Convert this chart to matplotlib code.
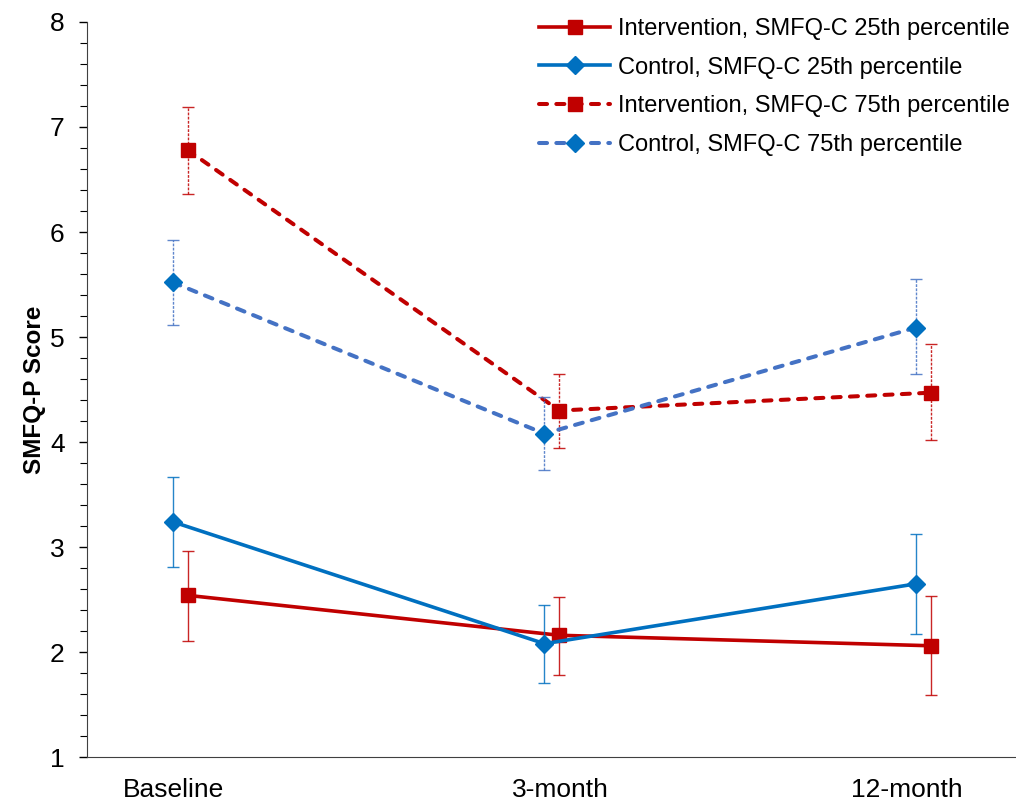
import numpy as np
import matplotlib
matplotlib.use('Agg')
import matplotlib.pyplot as plt
from matplotlib.ticker import MultipleLocator

plt.rcParams['font.family'] = ['Liberation Sans', 'DejaVu Sans']

# time points
timepoints = ['Baseline', '3-month', '12-month']

# SMFQ-P means and 95% CI bounds
int_25 = [2.54, 2.16, 2.06]
int_25_lo = [2.11, 1.78, 1.59]
int_25_hi = [2.96, 2.52, 2.53]

ctl_25 = [3.24, 2.08, 2.65]
ctl_25_lo = [2.81, 1.71, 2.17]
ctl_25_hi = [3.67, 2.45, 3.12]

int_75 = [6.78, 4.30, 4.47]
int_75_lo = [6.36, 3.94, 4.02]
int_75_hi = [7.19, 4.65, 4.93]

ctl_75 = [5.52, 4.08, 5.09]
ctl_75_lo = [5.11, 3.73, 4.65]
ctl_75_hi = [5.92, 4.43, 5.55]

red = '#C00000'
blue = '#0070C0'
blue2 = '#4472C4'

series = [
    ('Intervention, SMFQ-C 25th percentile', int_25, int_25_lo, int_25_hi, red, 's', '-', 0.04),
    ('Control, SMFQ-C 25th percentile', ctl_25, ctl_25_lo, ctl_25_hi, blue, 'D', '-', 0.0),
    ('Intervention, SMFQ-C 75th percentile', int_75, int_75_lo, int_75_hi, red, 's', '--', 0.04),
    ('Control, SMFQ-C 75th percentile', ctl_75, ctl_75_lo, ctl_75_hi, blue2, 'D', '--', 0.0),
]

fig = plt.figure(figsize=(10.16, 8.02), dpi=100)
ax = fig.add_axes([0.0856, 0.056, 0.9134, 0.9166])

x = np.arange(len(timepoints))
for label, y, lo, hi, color, marker, ls, off in series:
    y = np.array(y)
    err = [y - np.array(lo), np.array(hi) - y]
    xs = x + off
    eb = ax.errorbar(xs, y, yerr=err, fmt='none', ecolor=color, elinewidth=1.0,
                     capsize=4.3, capthick=1.0, alpha=0.85)
    msize = 10.2 if marker == 's' else 9.2
    if ls == '--':
        eb[2][0].set_linestyle((0, (2, 1)))
        mcolor = blue if color == blue2 else color
        line, = ax.plot(xs, y, color=color, lw=2.9, marker=marker, markersize=msize,
                        markerfacecolor=mcolor, markeredgecolor=mcolor, label=label)
        line.set_dashes((2.0, 2.3))
        line.set_dash_capstyle('round')
    else:
        ax.plot(xs, y, color=color, lw=2.6, ls='-', marker=marker,
                markersize=msize, label=label)

ax.set_xlim(-0.231, 2.266)
ax.set_ylim(1, 8)
ax.yaxis.set_major_locator(MultipleLocator(1))
ax.yaxis.set_minor_locator(MultipleLocator(0.2))
ax.tick_params(axis='y', which='major', direction='out', length=6, width=1, labelsize=19, pad=10)
ax.tick_params(axis='y', which='minor', direction='out', length=5, width=0.8)
ax.set_xticks([0.003, 1.043, 1.976])
ax.set_xticklabels(timepoints)
ax.tick_params(axis='x', length=0, labelsize=19, pad=15)

ax.spines['top'].set_visible(False)
ax.spines['right'].set_visible(False)
ax.spines['left'].set_color('#404040')
ax.spines['bottom'].set_color('#404040')
ax.set_ylabel('SMFQ-P Score', fontsize=17.5, fontweight='bold', labelpad=3)

ax.legend(loc='upper right', bbox_to_anchor=(1.0, 1.012), frameon=False,
          fontsize=17, handlelength=3.0, handletextpad=0.35, labelspacing=0.71,
          borderaxespad=0, borderpad=0.2, numpoints=1)

fig.savefig('out.png', dpi=100)
